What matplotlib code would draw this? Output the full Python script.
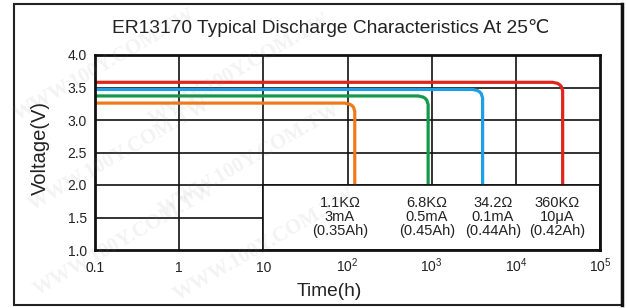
import matplotlib.pyplot as plt
from matplotlib.patches import Rectangle

plt.rcParams['font.family'] = ['Liberation Sans', 'DejaVu Sans']
plt.rcParams['mathtext.fontset'] = 'custom'
plt.rcParams['mathtext.rm'] = 'Liberation Sans'

# discharge curves (time in h, voltage in V)
t_3ma = [0.1, 93, 106, 113, 118, 122, 122]
v_3ma = [3.26, 3.26, 3.243, 3.222, 3.195, 3.13, 1.0]
t_05ma = [0.1, 690, 790, 838, 875, 908, 908]
v_05ma = [3.37, 3.37, 3.353, 3.332, 3.305, 3.24, 1.0]
t_01ma = [0.1, 3060, 3510, 3720, 3880, 4030, 4030]
v_01ma = [3.47, 3.47, 3.453, 3.432, 3.405, 3.34, 1.0]
t_10ua = [0.1, 27400, 31400, 33200, 34700, 36000, 36000]
v_10ua = [3.58, 3.58, 3.563, 3.542, 3.515, 3.45, 1.0]

x_ticks = [0.1, 1, 10, 100, 1000, 1e4, 1e5]
x_labels = ['0.1', '1', '10', '$10^2$', '$10^3$', '$10^4$', '$10^5$']
y_ticks = [1.0, 1.5, 2.0, 2.5, 3.0, 3.5, 4.0]

loads = ['1.1K\u03a9\n3mA\n(0.35Ah)', '6.8K\u03a9\n0.5mA\n(0.45Ah)',
         '34.2\u03a9\n0.1mA\n(0.44Ah)', '360K\u03a9\n10\u03bcA\n(0.42Ah)']

fig = plt.figure(figsize=(6.27, 3.08), dpi=100)
ax = fig.add_axes([95 / 627, 58 / 308, 505 / 627, 195 / 308])

ax.set_xscale('log')
ax.set_xlim(0.1, 1e5)
ax.set_ylim(1.0, 4.0)

lw = 2.3
ax.plot(t_3ma, v_3ma, color='#f07a1a', lw=lw, zorder=3)
ax.plot(t_05ma, v_05ma, color='#13994a', lw=lw, zorder=3)
ax.plot(t_01ma, v_01ma, color='#1d9fe4', lw=lw, zorder=3)
ax.plot(t_10ua, v_10ua, color='#e0251d', lw=lw, zorder=3)

# grid
for x in x_ticks[1:-1]:
    ax.axvline(x, color='#111111', lw=1.2, zorder=2)
for y in y_ticks[1:-1]:
    ax.axhline(y, color='#111111', lw=1.2, zorder=2)

# white box with load info (covers lower right part)
box = Rectangle((10, 1.0), 1e5 - 10, 1.0, facecolor='white',
                edgecolor='#111111', lw=1.2, zorder=4)
ax.add_patch(box)

text_x = [340, 427, 493, 557]
for px, s in zip(text_x, loads):
    ax.text((px - 95) / 505, 0.17, s, transform=ax.transAxes, ha='center',
            va='center', fontsize=10.5, color='#222222', linespacing=1.0,
            zorder=5)

for sp in ax.spines.values():
    sp.set_linewidth(2.0)
    sp.set_color('#111111')
    sp.set_zorder(6)

ax.minorticks_off()
ax.set_xticks(x_ticks)
ax.set_xticklabels(x_labels)
ax.set_yticks(y_ticks)
ax.set_yticklabels(['%.1f' % y for y in y_ticks])
ax.tick_params(axis='both', length=0, labelsize=10, colors='#222222')
ax.tick_params(axis='x', pad=16)
ax.tick_params(axis='y', pad=6)
for lab in ax.get_xticklabels():
    lab.set_va('baseline')

fig.text(331 / 627, 1 - 28 / 308, 'ER13170 Typical Discharge Characteristics At 25\u2103',
         ha='center', va='center', fontsize=13.8, color='#222222')
fig.text(329 / 627, 1 - 292 / 308, 'Time(h)', ha='center', va='center',
         fontsize=13.8, color='#222222')
fig.text(40 / 627, 1 - 148 / 308, 'Voltage(V)', ha='center', va='center',
         rotation=90, fontsize=14.5, color='#222222')

# outer frame
frame = Rectangle((14 / 627, 3 / 308), 608 / 627, 301 / 308,
                  transform=fig.transFigure, fill=False,
                  edgecolor='#222222', lw=1.5)
fig.add_artist(frame)
fig.add_artist(plt.Line2D([622 / 627, 622 / 627], [3 / 308, 304 / 308],
                          transform=fig.transFigure, color='#111111', lw=2.5))

# watermark
for cx, cy in [(105, 65), (240, 70), (120, 155), (250, 160), (125, 240), (265, 245)]:
    fig.text(cx / 627, 1 - cy / 308, 'WWW.100Y.COM.TW', ha='center', va='center',
             rotation=30, fontsize=15, fontweight='bold', family='Liberation Serif',
             color='#888888', alpha=0.1, zorder=10)

fig.savefig('out.png', dpi=100)
